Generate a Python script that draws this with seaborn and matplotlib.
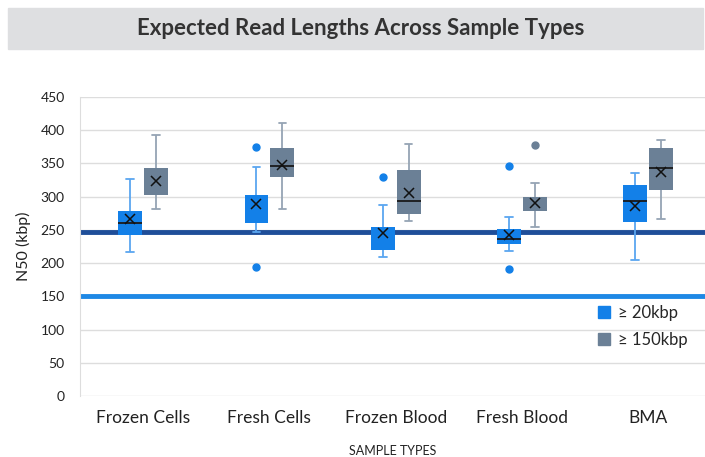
import numpy as np
import pandas as pd
import matplotlib
matplotlib.use('Agg')
import matplotlib.pyplot as plt
from matplotlib.colors import to_hex
from matplotlib.patches import Patch, Rectangle
import seaborn as sns

categories = ['Frozen Cells', 'Fresh Cells', 'Frozen Blood', 'Fresh Blood', 'BMA']
levels = ['\u2265 20kbp', '\u2265 150kbp']

# box statistics (kbp)
whislo_20 = [216, 247, 209, 218, 204]
q1_20 = [243, 261, 219, 229, 262]
med_20 = [260, 288, 244, 236, 293]
q3_20 = [278, 302, 254, 251, 318]
whishi_20 = [327, 344, 288, 269, 336]
mean_20 = [267, 289, 245, 243, 286]
low_out_20 = [None, 194, None, 191, None]
high_out_20 = [None, 374, 329, 346, None]

whislo_150 = [281, 281, 263, 254, 266]
q1_150 = [303, 329, 274, 279, 310]
med_150 = [323, 346, 293, 290, 343]
q3_150 = [343, 373, 340, 300, 373]
whishi_150 = [393, 411, 380, 321, 385]
mean_150 = [324, 348, 305, 290, 337]
low_out_150 = [None, None, None, None, None]
high_out_150 = [None, None, None, 378, None]

# median line not drawn in the original for these boxes
no_median_20 = [False, True, True, False, False]
no_median_150 = [True, False, False, True, False]

ref_dark = 247
ref_light = 150

blue = '#1380e8'
gray = '#6b8096'
whisker_colors = ['#5aa6f0', '#95a4b4']
median_color = '#1a1a1a'


def build_rows(level, wlo, q1, med, q3, whi, lo_out, hi_out):
    # 9 points per group so the quartiles land exactly on q1 / med / q3
    rows = []
    for i, cat in enumerate(categories):
        lo = lo_out[i] if lo_out[i] is not None else wlo[i]
        hi = hi_out[i] if hi_out[i] is not None else whi[i]
        vals = [lo, wlo[i], q1[i], q1[i], med[i], q3[i], q3[i], whi[i], hi]
        for v in vals:
            rows.append({'sample': cat, 'size': level, 'n50': v})
    return rows


df = pd.DataFrame(
    build_rows(levels[0], whislo_20, q1_20, med_20, q3_20, whishi_20, low_out_20, high_out_20)
    + build_rows(levels[1], whislo_150, q1_150, med_150, q3_150, whishi_150, low_out_150, high_out_150)
)
means = pd.DataFrame({
    'sample': categories * 2,
    'size': [levels[0]] * 5 + [levels[1]] * 5,
    'n50': mean_20 + mean_150,
})

sns.set_style('white')
plt.rcParams['font.family'] = ['Lato', 'DejaVu Sans']

fig = plt.figure(figsize=(7.05, 4.57), dpi=100)
ax = fig.add_axes([80 / 705, 61 / 457, 625 / 705, 299 / 457])

# title banner
fig.patches.append(Rectangle((8 / 705, 408 / 457), 695 / 705, 41 / 457,
                             transform=fig.transFigure, color='#dedfe1', zorder=0))
fig.text(0.512, 0.937, 'Expected Read Lengths Across Sample Types', ha='center', va='center',
         fontsize=16, fontweight='bold', color='#333333')

ax.axhline(ref_dark, color='#1f4e99', linewidth=3.5, zorder=1.5)
ax.axhline(ref_light, color='#1e88e5', linewidth=3.5, zorder=1.5)

palette = {levels[0]: blue, levels[1]: gray}
for lvl, wc, hide in zip(levels, whisker_colors, [no_median_20, no_median_150]):
    fc = palette[lvl]
    n_before = len(ax.lines)
    sns.boxplot(data=df[df['size'] == lvl], x='sample', y='n50', hue='size',
                hue_order=levels, order=categories, palette=palette, saturation=1,
                dodge=True, width=0.41, gap=0.08, linecolor=wc, linewidth=1.3,
                boxprops={'edgecolor': fc, 'linewidth': 0},
                medianprops={'color': median_color, 'linewidth': 1.3},
                flierprops={'marker': 'o', 'markerfacecolor': fc, 'markeredgecolor': fc,
                            'markersize': 5},
                capwidths=0.06, legend=False, ax=ax)
    medians = [ln for ln in ax.lines[n_before:] if to_hex(ln.get_color()) == median_color]
    medians.sort(key=lambda ln: np.mean(ln.get_xdata()))
    for ln, h in zip(medians, hide):
        ln.set_visible(not h)

sns.pointplot(data=means, x='sample', y='n50', hue='size', hue_order=levels, order=categories,
              palette={levels[0]: '#111111', levels[1]: '#111111'}, dodge=0.205,
              markers='x', linestyle='none', errorbar=None, markersize=6.5,
              markeredgewidth=1.1, legend=False, ax=ax, zorder=5)

ax.set_xlim(-0.5, 4.45)
ax.set_ylim(0, 450)
ax.set_yticks(np.arange(0, 451, 50))
ax.yaxis.grid(True, color='#dddddd', linewidth=1)
ax.set_axisbelow(True)
for s in ['top', 'right', 'bottom']:
    ax.spines[s].set_visible(False)
ax.spines['left'].set_color('#dddddd')
ax.tick_params(axis='y', length=0, pad=11, labelsize=10, labelcolor='#222222')
ax.tick_params(axis='x', length=0, pad=10, labelsize=12.5, labelcolor='#222222')

ax.set_xlabel('SAMPLE TYPES', fontsize=9, color='#222222', labelpad=14)
ax.set_ylabel('N50 (kbp)', fontsize=11.5, color='#222222', labelpad=7)

handles = [Patch(facecolor=blue, edgecolor=blue), Patch(facecolor=gray, edgecolor=gray)]
ax.legend(handles, levels, loc='upper left', bbox_to_anchor=(0.805, 0.355), frameon=False,
          fontsize=12, handlelength=0.7, handleheight=0.7, handletextpad=0.5,
          labelspacing=0.65)

fig.savefig('out.png', dpi=100)
